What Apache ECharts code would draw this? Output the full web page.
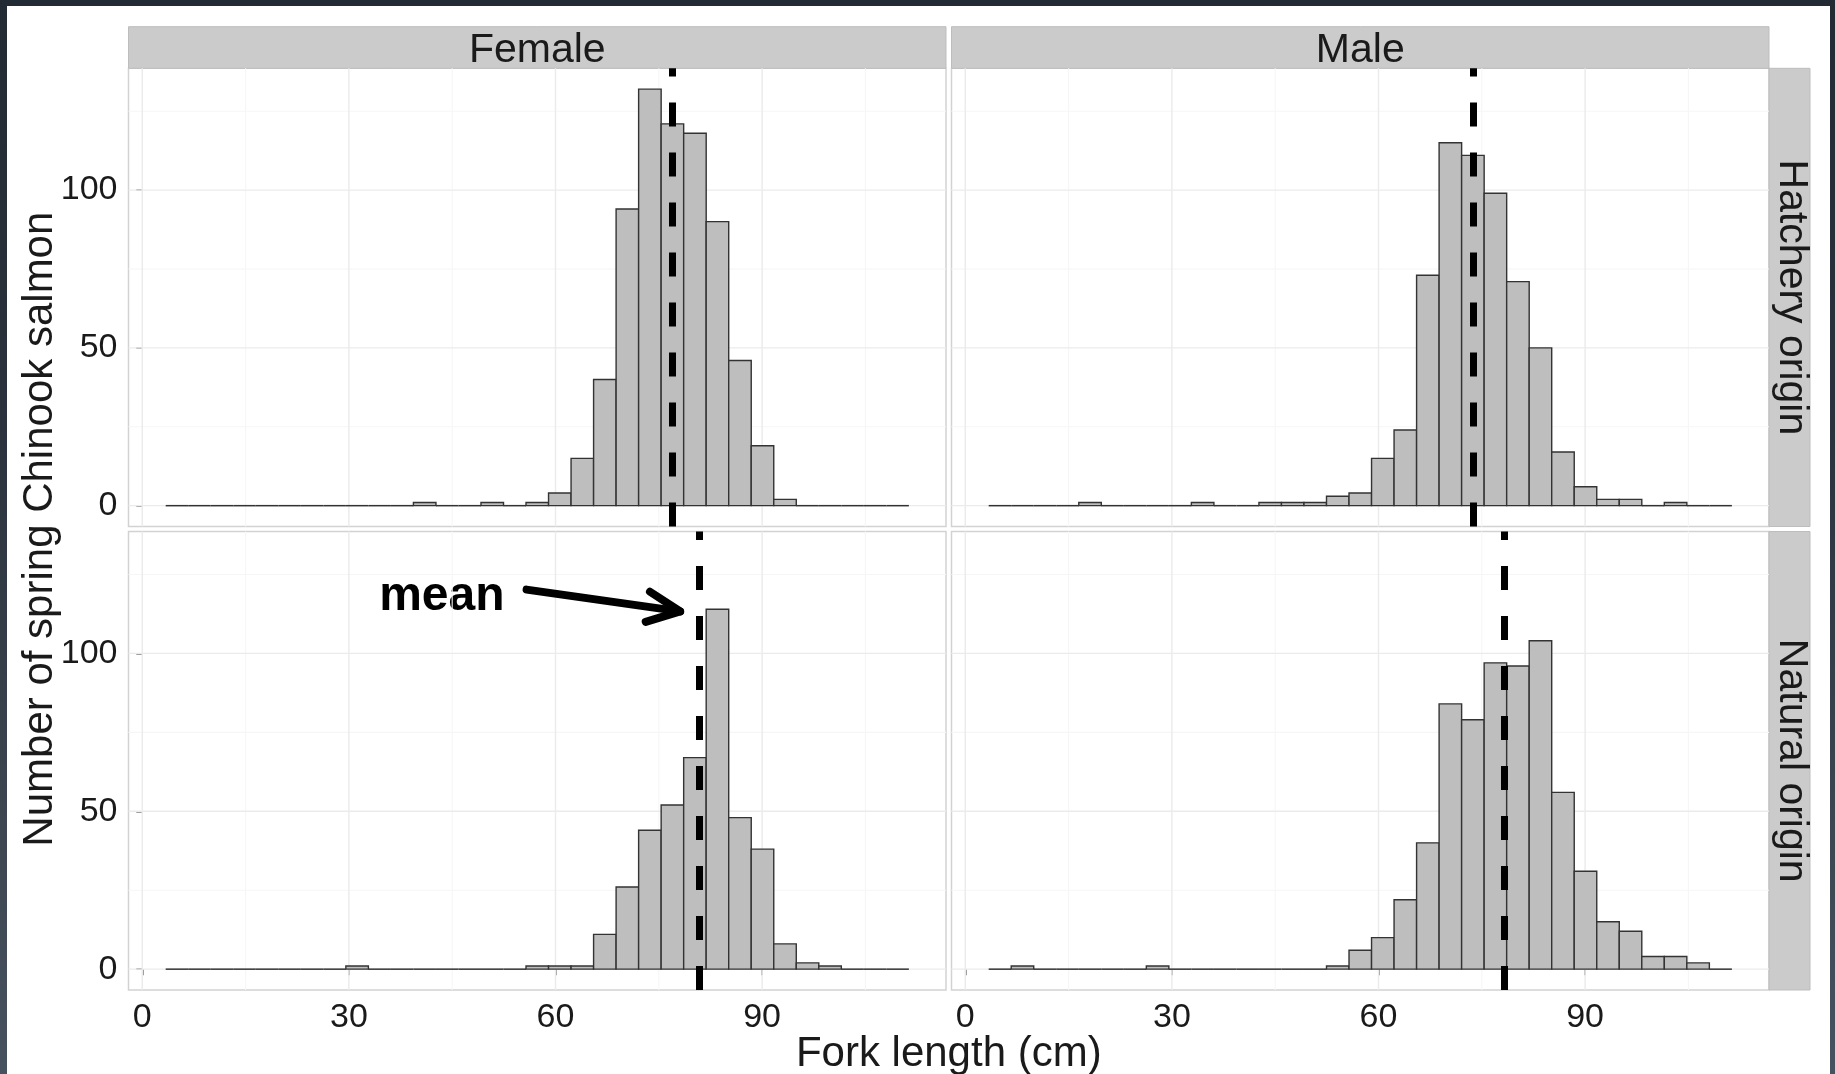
<!DOCTYPE html>
<html><head><meta charset="utf-8">
<script src="https://cdn.jsdelivr.net/npm/echarts@6/dist/echarts.min.js"></script>
<style>
html,body{margin:0;padding:0;width:1835px;height:1074px;overflow:hidden;background:linear-gradient(to bottom,#222a33 0%,#2a333d 40%,#46525e 100%);}
#paper{position:absolute;left:7px;top:6px;width:1823px;height:1068px;background:#fff;}
#chart{position:absolute;left:0;top:0;width:1835px;height:1074px;}
</style></head><body><div id="paper"></div><div id="chart"></div>
<script>
// ---- data ----
const binStart = 3.4;
const binWidth = 3.27;
const femaleHatchery = [0,0,0,0,0,0,0,0,0,0,0, 1,0,0,1,0,1,4,15,40,94,132,121,118,90,46,19,2, 0,0,0,0,0];
const maleHatchery   = [0,0,0,0, 1, 0,0,0,0, 1, 0,0, 1,1,1,3,4,15,24,73,115,111,99,71,50,17,6,2,2,0,1, 0,0];
const femaleNatural  = [0,0,0,0,0,0,0,0, 1, 0,0,0,0,0,0,0, 1,1,1,11,26,44,52,67,114,48,38,8,2,1, 0,0,0];
const maleNatural    = [0, 1, 0,0,0,0,0, 1, 0,0,0,0,0,0,0, 1,6,10,22,40,84,79,97,96,104,56,31,15,12,4,4,2, 0];
const means = [77.0, 73.8, 80.9, 78.2];           // FH, MH, FN, MN
const sexes = ['Female', 'Male'];
const origins = ['Hatchery origin', 'Natural origin'];
const xTicks = [0, 30, 60, 90];
const xMinor = [15, 45, 75, 105];
const yTicks = [0, 50, 100];
const yMinor = [25, 75, 125];
const xRange = [-2.0, 116.7];
const yRange = [-6.6, 138.6];
const yTitle = 'Number of spring Chinook salmon';
const xTitle = 'Fork length (cm)';
const annotation = {text: 'mean', textAt: [43.5, 118.0], from: [55.8, 120.2], to: [78.1, 113.3]};

// ---- layout ----
const panelCounts = [femaleHatchery, maleHatchery, femaleNatural, maleNatural];
const L = [128.5, 951.5], W = 817.5;
const T = [68.3, 531.5], H = [458.2, 458.5];
const FONT = "'Liberation Sans', Arial, Helvetica, sans-serif";
const TXT = '#1a1a1a';

const chart = echarts.init(document.getElementById('chart'), null, {renderer: 'canvas'});

function histItem(params, api) {
  const x0 = api.value(0), x1 = api.value(1), c = api.value(2);
  const p0 = api.coord([x0, 0]), p1 = api.coord([x1, c]);
  if (c === 0) {
    return {type: 'line', shape: {x1: p0[0], y1: p0[1], x2: p1[0], y2: p0[1]},
            style: {stroke: '#333', lineWidth: 1.5}};
  }
  return {type: 'rect', shape: {x: p0[0], y: p1[1], width: p1[0] - p0[0], height: p0[1] - p1[1]},
          style: {fill: '#bebebe', stroke: '#333', lineWidth: 1.4}};
}
function gridItem(params, api) {
  const kind = api.value(0), v = api.value(1), major = api.value(2);
  const style = {stroke: major ? '#ebebeb' : '#f6f6f6', lineWidth: major ? 1.4 : 1.1};
  let a, b;
  if (kind === 0) { a = api.coord([v, yRange[0]]); b = api.coord([v, yRange[1]]); }
  else { a = api.coord([xRange[0], v]); b = api.coord([xRange[1], v]); }
  return {type: 'line', shape: {x1: a[0], y1: a[1], x2: b[0], y2: b[1]}, style};
}
const gridData = [].concat(
  xMinor.map(v => [0, v, 0]), yMinor.map(v => [1, v, 0]),
  xTicks.map(v => [0, v, 1]), yTicks.map(v => [1, v, 1])
);

const grids = [], xAxes = [], yAxes = [], series = [];
for (let r = 0; r < 2; r++) {
  for (let c = 0; c < 2; c++) {
    const i = r * 2 + c;
    grids.push({left: L[c], top: T[r], width: W, height: H[r], show: true,
                backgroundColor: '#fff', borderColor: '#d2d2d2', borderWidth: 1.5, containLabel: false});
    const showX = r === 1, showY = c === 0;
    xAxes.push({type: 'value', gridIndex: i, min: xRange[0], max: xRange[1],
      axisLine: {show: false}, splitLine: {show: false},
      axisTick: {show: showX, customValues: xTicks, length: 6, lineStyle: {color: '#808080', width: 1.5}},
      axisLabel: {show: showX, customValues: xTicks, fontSize: 34, color: TXT, fontFamily: FONT, margin: 11}});
    yAxes.push({type: 'value', gridIndex: i, min: yRange[0], max: yRange[1],
      axisLine: {show: false}, splitLine: {show: false},
      axisTick: {show: showY, customValues: yTicks, length: 6, lineStyle: {color: '#808080', width: 1.5}},
      axisLabel: {show: showY, customValues: yTicks, fontSize: 34, color: TXT, fontFamily: FONT, margin: 11}});
    series.push({type: 'custom', xAxisIndex: i, yAxisIndex: i, z: 1, silent: true,
      renderItem: gridItem, data: gridData, encode: {x: 1, y: 1}});
    const counts = panelCounts[i];
    series.push({type: 'custom', xAxisIndex: i, yAxisIndex: i, z: 2, silent: true,
      renderItem: histItem, encode: {x: [0, 1], y: 2},
      data: counts.map((v, k) => [binStart + k * binWidth, binStart + (k + 1) * binWidth, v]),
      markLine: {silent: true, symbol: 'none', label: {show: false}, animation: false,
        lineStyle: {color: '#000', width: 7, type: [24, 26], cap: 'butt'},
        data: [[{coord: [means[i], yRange[0]]}, {coord: [means[i], yRange[1]]}]]}});
  }
}

chart.setOption({animation: false, backgroundColor: 'transparent', textStyle: {fontFamily: FONT},
  grid: grids, xAxis: xAxes, yAxis: yAxes, series});

// strips, titles and annotation
const g = [];
for (let c = 0; c < 2; c++) {
  g.push({type: 'rect', shape: {x: L[c], y: 26.7, width: W, height: T[0] - 26.7},
          style: {fill: '#cbcbcb', stroke: '#bdbdbd', lineWidth: 1}, silent: true});
  g.push({type: 'text', x: L[c] + W / 2, y: (26.7 + T[0]) / 2 + 3,
          style: {text: sexes[c], font: '41px ' + FONT, fill: TXT, align: 'center', verticalAlign: 'middle'}});
}
for (let r = 0; r < 2; r++) {
  g.push({type: 'rect', shape: {x: L[1] + W, y: T[r], width: 41, height: H[r]},
          style: {fill: '#cbcbcb', stroke: '#bdbdbd', lineWidth: 1}, silent: true});
  g.push({type: 'text', x: L[1] + W + 22, y: T[r] + H[r] / 2, rotation: -Math.PI / 2,
          style: {text: origins[r], font: '41px ' + FONT, fill: TXT, align: 'center', verticalAlign: 'middle'}});
}
g.push({type: 'text', x: 40, y: (T[0] + T[1] + H[1]) / 2, rotation: Math.PI / 2,
        style: {text: yTitle, font: '42px ' + FONT, fill: TXT, align: 'center', verticalAlign: 'middle'}});
g.push({type: 'text', x: (L[0] + L[1] + W) / 2, y: 1054,
        style: {text: xTitle, font: '42px ' + FONT, fill: TXT, align: 'center', verticalAlign: 'middle'}});

const tp = chart.convertToPixel({gridIndex: 2}, annotation.textAt);
const a0 = chart.convertToPixel({gridIndex: 2}, annotation.from);
const a1 = chart.convertToPixel({gridIndex: 2}, annotation.to);
g.push({type: 'text', x: tp[0], y: tp[1],
        style: {text: annotation.text, font: 'bold 48px ' + FONT, fill: '#000', align: 'center', verticalAlign: 'middle'}});
const ang = Math.atan2(a1[1] - a0[1], a1[0] - a0[0]);
const hl = 36, ha = 25 * Math.PI / 180;
const h1 = [a1[0] - hl * Math.cos(ang - ha), a1[1] - hl * Math.sin(ang - ha)];
const h2 = [a1[0] - hl * Math.cos(ang + ha), a1[1] - hl * Math.sin(ang + ha)];
g.push({type: 'polyline', shape: {points: [a0, a1]}, style: {stroke: '#000', lineWidth: 8, lineCap: 'round'}, z: 10});
g.push({type: 'polyline', shape: {points: [h1, a1, h2]}, style: {stroke: '#000', lineWidth: 8, lineCap: 'round', lineJoin: 'round', fill: null}, z: 10});

chart.setOption({graphic: g});
</script></body></html>
